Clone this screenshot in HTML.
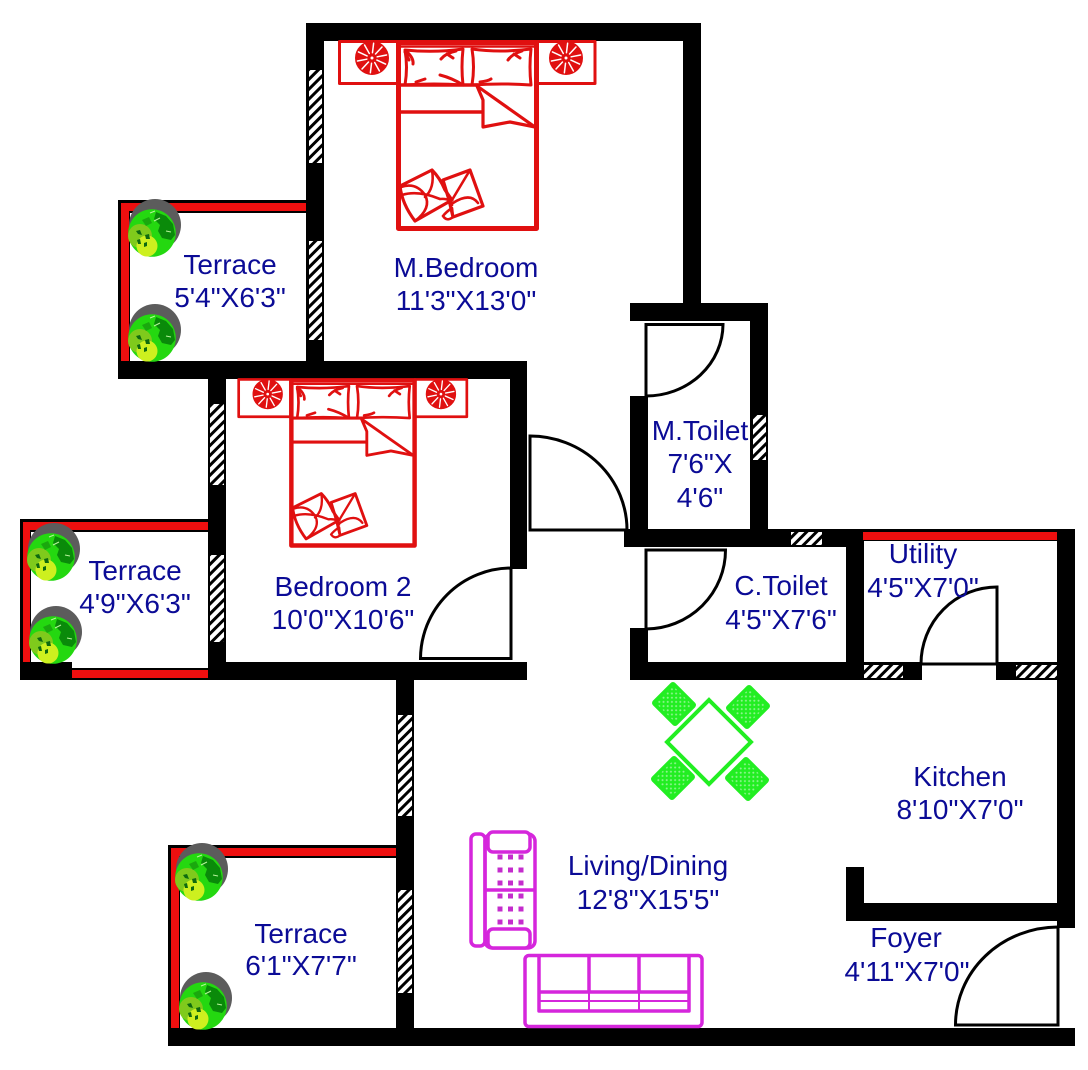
<!DOCTYPE html>
<html>
<head>
<meta charset="utf-8">
<style>
html,body{margin:0;padding:0;background:#fff;}
svg{display:block;}
text{font-family:"Liberation Sans",sans-serif;font-size:28px;fill:#0b0b96;text-anchor:middle;}
</style>
</head>
<body>
<svg width="1088" height="1070" viewBox="0 0 1088 1070" xmlns="http://www.w3.org/2000/svg">
<defs>
<pattern id="h" width="7" height="7" patternUnits="userSpaceOnUse" patternTransform="rotate(45)">
<rect width="7" height="7" fill="#fff"/><rect width="3" height="7" fill="#000"/>
</pattern>
<pattern id="g" width="4.2" height="4.2" patternUnits="userSpaceOnUse" patternTransform="rotate(45)">
<rect width="4.2" height="4.2" fill="#22ee22"/><circle cx="2.1" cy="2.1" r="1" fill="#8ef48e"/>
</pattern>
<path id="sl" d="M3.500 -4L10 -11" stroke="#fff" stroke-width="1.500" fill="none"/>
<g id="fan">
<circle r="15.500" fill="#e01010"/>
<use href="#sl"/><use href="#sl" transform="rotate(36)"/><use href="#sl" transform="rotate(72)"/><use href="#sl" transform="rotate(108)"/><use href="#sl" transform="rotate(144)"/><use href="#sl" transform="rotate(180)"/><use href="#sl" transform="rotate(216)"/><use href="#sl" transform="rotate(252)"/><use href="#sl" transform="rotate(288)"/><use href="#sl" transform="rotate(324)"/>
<circle r="3" fill="#fff"/>
</g>
<g id="bed" fill="none" stroke="#e01010" stroke-width="3" stroke-linejoin="round" stroke-linecap="round">
<rect x="339.500" y="41.500" width="58" height="42"/>
<rect x="537" y="41.500" width="58" height="42"/>
<use href="#fan" x="372" y="58"/>
<use href="#fan" x="566" y="58"/>
<rect x="398.500" y="42.500" width="138" height="186" stroke-width="5"/>
<path d="M398 46.500H537" stroke-width="2.500"/>
<path d="M398 85H477" stroke-width="3.500"/>
<path d="M399 112H482" stroke-width="3.500"/>
<path d="M405 50Q434 53 463 49Q461 67 463 85Q434 83 405 85Q408 67 405 50Z" stroke-width="3"/>
<path d="M472 49Q500 53 531 49Q529 67 531 85Q502 83 472 85Q475 67 472 49Z" stroke-width="3"/>
<path d="M406 51Q414 58 413 64M405 52L409 60M441 59Q446 53 456 51M447 54L453 58M416 82Q422 80 425 79M440 75Q452 78 463 85M480 82Q488 81 491 79M508 60Q512 54 522 51M514 54L520 58" stroke-width="3"/>
<path d="M477 86L535 127L510 122L483 127V100Z" stroke-width="3.200"/>
<path d="M400 186L432 170Q440 178 445 190L452 200L415 221Q402 204 400 186Z" stroke-width="3.200"/>
<path d="M443 180L470 170L483 206L453 217L449 200Z" stroke-width="3.200"/>
<path d="M401 187Q416 182 425 195Q432 208 415 221M402 195Q418 190 440 199M432 170Q435 188 425 197M440 199Q451 198 452 205M452 200L470 170M453 203Q470 192 478 203M443 216Q447 222 453 217L452 208Q446 212 443 216" stroke-width="2.600"/>
</g>
<g id="tree">
<circle cx="3" cy="-8" r="26" fill="#5c5c5c"/>
<circle r="23.800" fill="#24d810"/>
<path d="M4 -21L14 -17L21 -9L23 2L19 7L10 5L6 -2L8 -8L2 -14Z" fill="#0a8a0a"/>
<circle cx="-12" cy="3" r="12" fill="#7fca1c"/>
<circle cx="-5" cy="13" r="10.500" fill="#cdf01f"/>
<path d="M-10 -13L-3 -16L0 -10L-6 -7Z" fill="#1aa80e"/>
<path d="M-16 -2L-12 -3L-10 2L-14 1ZM-7 2L-3 1L-2 6L-6 6ZM-15 7L-12 6L-11 11L-14 11ZM-8 10L-5 9L-5 13L-8 14Z" fill="#0e6a10"/>
<path d="M-2 -20L3 -22M2 -12L8 -15M14 -2L19 -1" stroke="#b8f49c" stroke-width="1" fill="none"/>
</g>
</defs>

<rect width="1088" height="1070" fill="#fff"/>

<!-- black walls -->
<g fill="#000">
<rect x="306" y="23" width="394" height="18"/>
<rect x="306" y="23" width="18" height="350"/>
<rect x="683" y="23" width="18" height="285"/>
<rect x="630" y="303" width="138" height="18"/>
<rect x="750" y="303" width="18" height="240"/>
<rect x="630" y="396" width="18" height="145"/>
<rect x="624" y="529" width="451" height="18"/>
<rect x="846" y="529" width="18" height="151"/>
<rect x="1057" y="529" width="18" height="399"/>
<rect x="630" y="628" width="18" height="52"/>
<rect x="630" y="662" width="292" height="18"/>
<rect x="996" y="662" width="79" height="18"/>
<rect x="846" y="867" width="18" height="54"/>
<rect x="846" y="903" width="229" height="18"/>
<rect x="168" y="1028" width="907" height="18"/>
<rect x="396" y="662" width="18" height="384"/>
<rect x="118" y="361" width="409" height="18"/>
<rect x="510" y="361" width="17" height="208"/>
<rect x="208" y="361" width="18" height="319"/>
<rect x="208" y="662" width="319" height="18"/>
<rect x="20" y="662" width="52" height="18"/>
<rect x="72" y="668" width="136" height="12"/>
<!-- terrace parapets -->
<rect x="118" y="200" width="188" height="13"/>
<rect x="118" y="200" width="12" height="165"/>
<rect x="20" y="519" width="188" height="13"/>
<rect x="20" y="519" width="11" height="145"/>
<rect x="168" y="845" width="228" height="13"/>
<rect x="168" y="845" width="12" height="185"/>
</g>
<!-- red fills -->
<g fill="#ee0f0f">
<rect x="121" y="203" width="185" height="8"/>
<rect x="121" y="203" width="8" height="158"/>
<rect x="23" y="522" width="185" height="8"/>
<rect x="23" y="522" width="7" height="140"/>
<rect x="72" y="670" width="136" height="8"/>
<rect x="171" y="848" width="225" height="8"/>
<rect x="171" y="848" width="8" height="180"/>
<rect x="863" y="532" width="194" height="8"/>
</g>
<!-- utility wall: open below the red strip -->
<rect x="864" y="541" width="193" height="6" fill="#fff"/>

<!-- windows -->
<g fill="url(#h)">
<rect x="309" y="70" width="13" height="93"/>
<rect x="309" y="241" width="13" height="99"/>
<rect x="210" y="404" width="14" height="81"/>
<rect x="210" y="555" width="14" height="87"/>
<rect x="398" y="715" width="14" height="101"/>
<rect x="398" y="890" width="14" height="103"/>
<rect x="753" y="415" width="13" height="45"/>
<rect x="791" y="532" width="31" height="13"/>
<rect x="864" y="665" width="39" height="13"/>
<rect x="1016" y="665" width="41" height="13"/>
</g>

<!-- doors -->
<g fill="none" stroke="#000" stroke-width="3">
<path d="M646 396V324.500H723A77 72 0 0 1 646 396"/>
<path d="M530 436V530H627A97 94 0 0 0 530 436Z"/>
<path d="M511 568V658.500H420.500A91 91 0 0 1 511 568Z"/>
<path d="M646 629V550H725.500A80 79 0 0 1 646 629Z"/>
<path d="M997 664V587A76 77 0 0 0 921 664Z"/>
<path d="M1058 927V1025H955.500A103 98 0 0 1 1058 927Z"/>
</g>

<!-- beds -->
<use href="#bed"/>
<use href="#bed" transform="translate(-64.500 342.600) scale(0.893 0.888)"/>

<!-- plants -->
<use href="#tree" x="152" y="233"/>
<use href="#tree" x="152" y="338"/>
<use href="#tree" x="51" y="557"/>
<use href="#tree" x="53" y="640"/>
<use href="#tree" x="199" y="877"/>
<use href="#tree" x="203" y="1006"/>

<!-- dining -->
<g>
<path d="M709 700L751 742L709 784L667 742Z" fill="#fff" stroke="#22ee22" stroke-width="4"/>
<g fill="url(#g)" stroke="#22ee22" stroke-width="3.500" stroke-linejoin="round">
<rect x="-15.500" y="-14" width="31" height="28" rx="1.500" transform="translate(674 704) rotate(45)"/>
<rect x="-14" y="-15.500" width="28" height="31" rx="1.500" transform="translate(748 707) rotate(45)"/>
<rect x="-14" y="-15.500" width="28" height="31" rx="1.500" transform="translate(673 778) rotate(45)"/>
<rect x="-15.500" y="-14" width="31" height="28" rx="1.500" transform="translate(747 779) rotate(45)"/>
</g>
</g>

<!-- sofas -->
<g fill="none" stroke="#d526dc" stroke-width="3.500" stroke-linejoin="round">
<rect x="471" y="834" width="14" height="112" rx="5"/>
<rect x="485" y="834" width="50" height="114" rx="7"/>
<rect x="488" y="832" width="42" height="20" rx="5" fill="#fff"/>
<rect x="488" y="929" width="42" height="19" rx="5" fill="#fff"/>
<path d="M485 890H535"/>
<rect x="525" y="955.500" width="177" height="71" rx="4"/>
<path d="M539 956V1011H689V956M589 956V992M639 956V992M539 992H689"/>
<path d="M539 1001H689M589 992V1011M639 992V1011" stroke-width="2"/>
</g>
<g fill="#c42ccc">
<rect x="497.500" y="854.500" width="5" height="5"/><rect x="508" y="854.500" width="5" height="5"/><rect x="518.500" y="854.500" width="5" height="5"/>
<rect x="497.500" y="867.500" width="5" height="5"/><rect x="508" y="867.500" width="5" height="5"/><rect x="518.500" y="867.500" width="5" height="5"/>
<rect x="497.500" y="880.500" width="5" height="5"/><rect x="508" y="880.500" width="5" height="5"/><rect x="518.500" y="880.500" width="5" height="5"/>
<rect x="497.500" y="893.500" width="5" height="5"/><rect x="508" y="893.500" width="5" height="5"/><rect x="518.500" y="893.500" width="5" height="5"/>
<rect x="497.500" y="906.500" width="5" height="5"/><rect x="508" y="906.500" width="5" height="5"/><rect x="518.500" y="906.500" width="5" height="5"/>
<rect x="497.500" y="919.500" width="5" height="5"/><rect x="508" y="919.500" width="5" height="5"/><rect x="518.500" y="919.500" width="5" height="5"/>
</g>

<!-- labels -->
<text x="230" y="274">Terrace</text>
<text x="230" y="307">5'4"X6'3"</text>
<text x="466" y="277">M.Bedroom</text>
<text x="466" y="310">11'3"X13'0"</text>
<text x="343" y="596">Bedroom 2</text>
<text x="343" y="629">10'0"X10'6"</text>
<text x="135" y="580">Terrace</text>
<text x="135" y="613">4'9"X6'3"</text>
<text x="700" y="440">M.Toilet</text>
<text x="700" y="473">7'6"X</text>
<text x="700" y="507">4'6"</text>
<text x="781" y="595">C.Toilet</text>
<text x="781" y="629">4'5"X7'6"</text>
<text x="923" y="563">Utility</text>
<text x="923" y="597">4'5"X7'0"</text>
<text x="960" y="786">Kitchen</text>
<text x="960" y="819">8'10"X7'0"</text>
<text x="648" y="875">Living/Dining</text>
<text x="648" y="909">12'8"X15'5"</text>
<text x="301" y="943">Terrace</text>
<text x="301" y="975">6'1"X7'7"</text>
<text x="906" y="947">Foyer</text>
<text x="907" y="981">4'11"X7'0"</text>
</svg>
</body>
</html>
